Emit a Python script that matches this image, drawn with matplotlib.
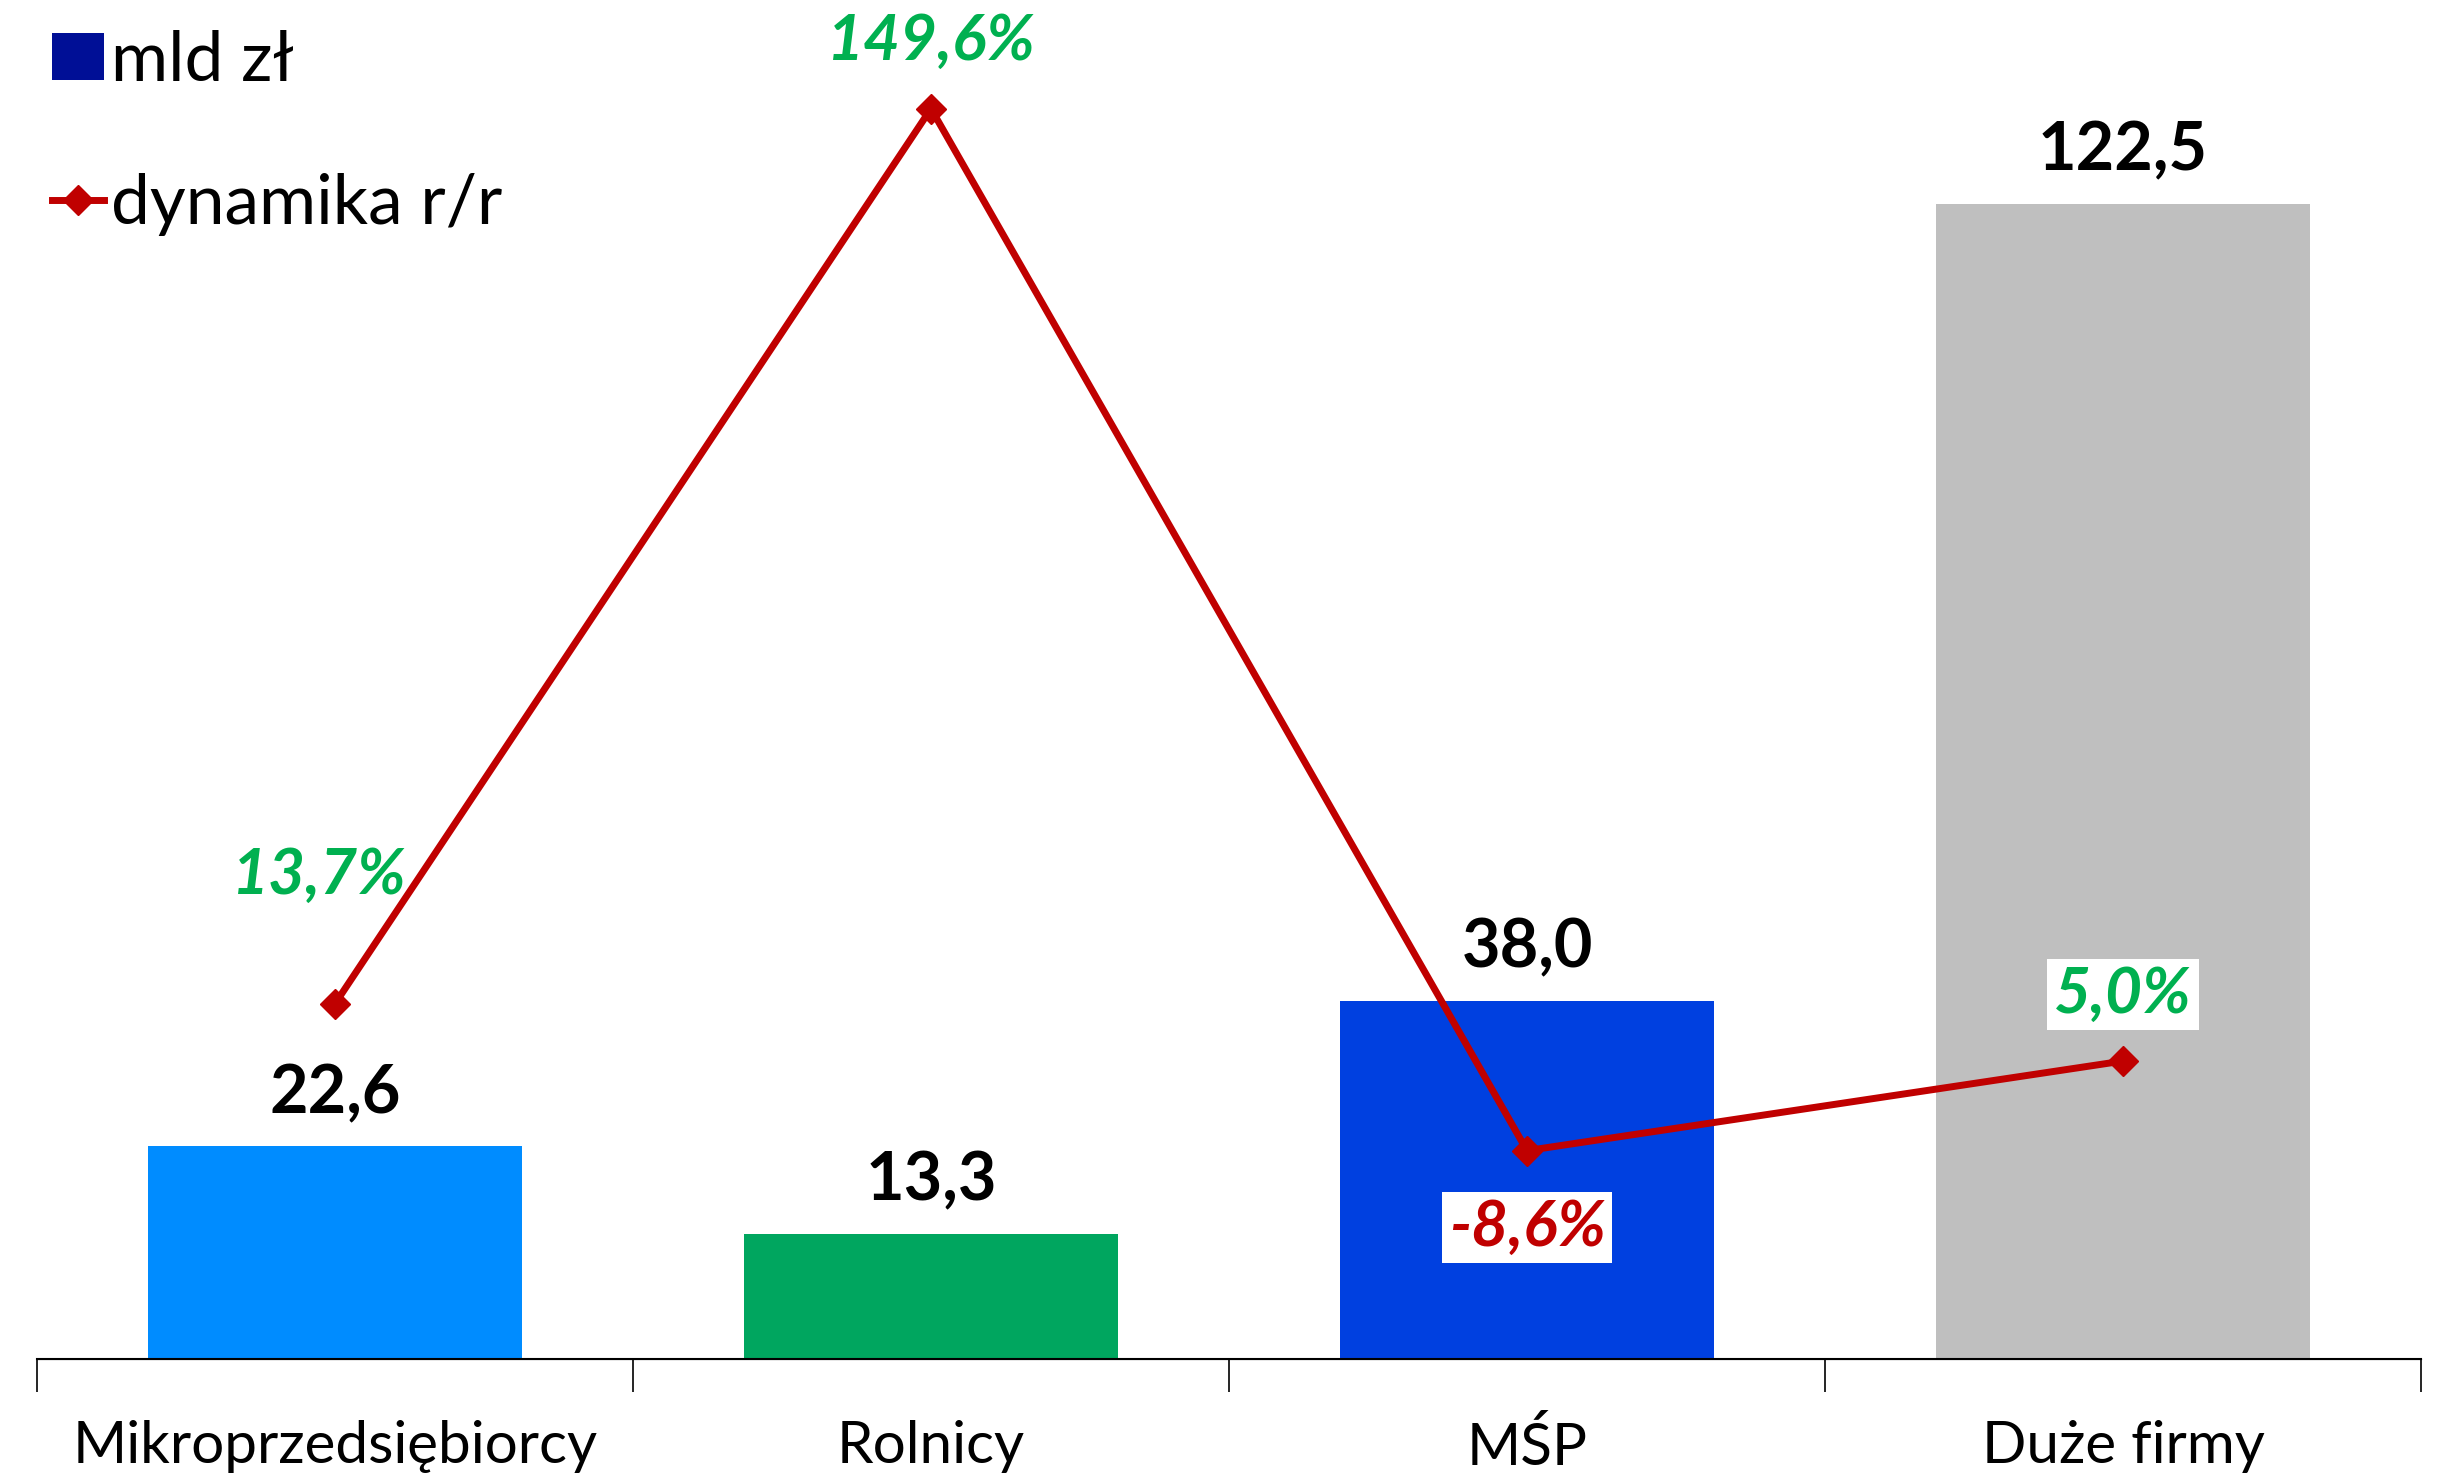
import numpy as np
import matplotlib.pyplot as plt
from matplotlib.patches import Patch
from matplotlib.lines import Line2D

plt.rcParams['font.family'] = ['Lato', 'DejaVu Sans']

# data
categories = ['Mikroprzedsiębiorcy', 'Rolnicy', 'MŚP', 'Duże firmy']
amounts = [22.6, 13.3, 38.0, 122.5]          # mld zł
growth = [13.7, 149.6, -8.6, 5.0]            # dynamika r/r, %
bar_colors = ['#008CFF', '#00A65F', '#0040E0', '#BFBFBF']
growth_colors = ['#00B050', '#00B050', '#C00000', '#00B050']

fig = plt.figure(figsize=(24.44, 14.74), dpi=100)
ax = fig.add_axes([37 / 2444, (1474 - 1359) / 1474, (2421 - 37) / 2444, 1359 / 1474])
ax2 = ax.twinx()

x = np.arange(len(categories))
ax.bar(x, amounts, width=0.626, color=bar_colors, zorder=1)
ax.set_xlim(-0.5, len(categories) - 0.5)
ax.set_ylim(0, 144.1)
ax2.set_ylim(-40.24, 166.1)

for xi, v in zip(x, amounts):
    ax.annotate(f'{v:.1f}'.replace('.', ','), (xi, v), xytext=(0, 52),
                textcoords='offset pixels', ha='center', va='center',
                fontsize=48, fontweight='bold', color='black')

ax2.plot(x, growth, color='#C00000', lw=5, marker='D', ms=15, zorder=3)

offsets = [(-16, 128), (0, 67), (0, -77), (0, 67)]
boxed = [False, False, True, True]
for xi, g, c, off, b in zip(x, growth, growth_colors, offsets, boxed):
    bbox = dict(facecolor='white', edgecolor='none', pad=5) if b else None
    ax2.annotate(f'{g:.1f}%'.replace('.', ','), (xi, g), xytext=off,
                 textcoords='offset pixels', ha='center', va='center',
                 fontsize=46, fontweight='bold', fontstyle='italic', color=c,
                 bbox=bbox)

# axes styling
for a in (ax, ax2):
    for s in ('top', 'right', 'left'):
        a.spines[s].set_visible(False)
    a.set_yticks([])
ax.spines['bottom'].set_linewidth(1.5)
ax.set_xticks(np.arange(len(categories) + 1) - 0.5, minor=False)
ax.set_xticklabels([])
ax.tick_params(axis='x', length=24, width=1.2, direction='out')
ax.set_xticks(x, minor=True)
ax.set_xticklabels(categories, minor=True, fontsize=42)
ax.tick_params(axis='x', which='minor', length=0, pad=44)

handles = [Patch(facecolor='#000F96', label='mld zł'),
           Line2D([0], [0], color='#C00000', lw=5, marker='D', ms=15,
                  label='dynamika r/r')]
ax2.legend(handles=handles, loc='upper left', bbox_to_anchor=(-0.02, 1.024),
           frameon=False, fontsize=50, labelspacing=1.15, handlelength=0.75,
           handletextpad=0.1, handleheight=0.65)

fig.savefig('out.png', dpi=100)
